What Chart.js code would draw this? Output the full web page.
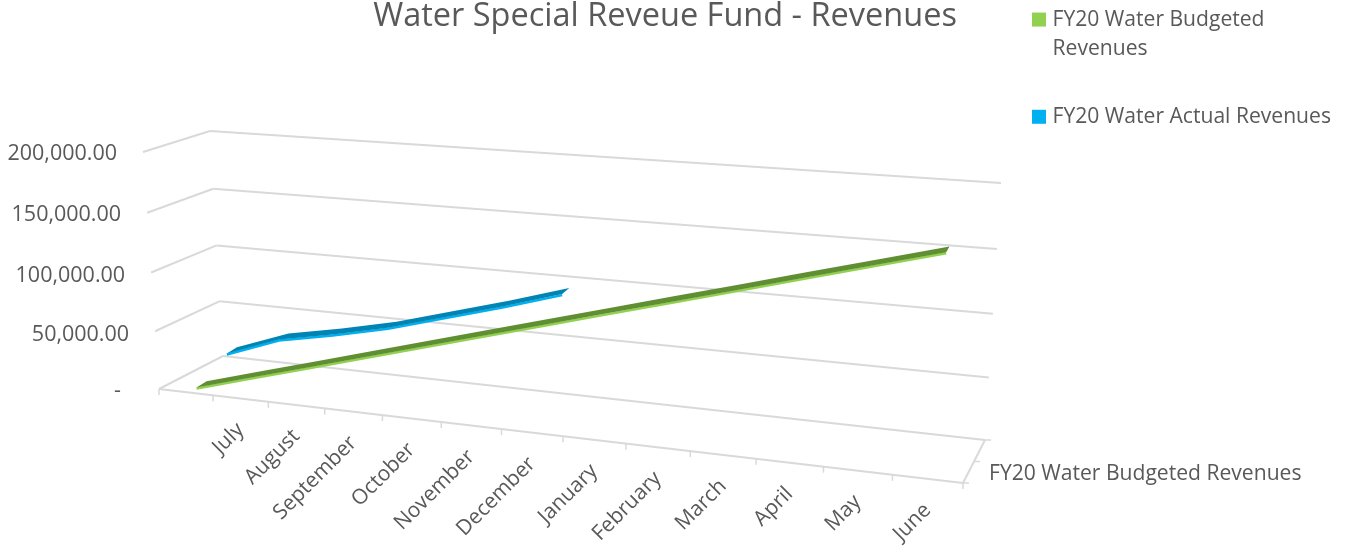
<!DOCTYPE html>
<html lang="en">
<head>
    <meta charset="UTF-8">
    <title>Water Special Reveue Fund - Revenues</title>
    <script src="https://cdn.jsdelivr.net/npm/chart.js@4"></script>
    <style>
        html, body { margin: 0; background: #fff; }
        canvas { display: block; }
    </style>
</head>
<body>
    <canvas id="myChart" width="1346" height="548"></canvas>

    <script>
        const categories = ['', 'July', 'August', 'September', 'October', 'November', 'December', 'January', 'February', 'March', 'April', 'May', 'June'];
        const budgetedValues = [0, 13792, 27583, 41375, 55167, 68958, 82750, 96542, 110333, 124125, 137917, 151708, 165500];
        const actualValues = [15500, 33000, 42300, 53000, 66700, 80500, 95300];
        const valueTicks = [0, 50000, 100000, 150000, 200000];
        const valueTickLabels = ['-', '50,000.00', '100,000.00', '150,000.00', '200,000.00'];
        const seriesNames = ['FY20 Water Budgeted Revenues', 'FY20 Water Actual Revenues'];
        const depthLabel = 'FY20 Water Budgeted Revenues';

        const textColor = '#595959';
        const gridColor = '#d9d9d9';
        const fontName = '"Open Sans", sans-serif';

        // corners of the 3D box on the page: Front/Back, Left/Right, Bottom/Top
        const box = {
            FLB: [159, 389], FRB: [963, 483], BLB: [223, 356], BRB: [985, 440],
            FLT: [143, 152], FRT: [983, 211], BLT: [210, 131], BRT: [1001, 183]
        };
        const lerp = (a, b, t) => [a[0] + (b[0] - a[0]) * t, a[1] + (b[1] - a[1]) * t];
        const persp = (t, k) => t / (t + k * (1 - t));

        // u along months, v up the value axis, w into depth, all 0..1
        function project(u, v, w) {
            const pu = persp(u, 1.155);
            const pv = persp(v, 1.035);
            const front = lerp(lerp(box.FLB, box.FRB, pu), lerp(box.FLT, box.FRT, pu), pv);
            const back = lerp(lerp(box.BLB, box.BRB, pu), lerp(box.BLT, box.BRT, pu), pv);
            return lerp(front, back, w);
        }

        const uOf = (chart, i) => chart.scales.x.getDecimalForPixel(chart.scales.x.getPixelForValue(i));
        const vOf = (chart, val) => chart.scales.y.getDecimalForPixel(chart.scales.y.getPixelForValue(val));

        function segment(ctx, a, b) {
            ctx.beginPath();
            ctx.moveTo(a[0], a[1]);
            ctx.lineTo(b[0], b[1]);
            ctx.stroke();
        }

        const box3d = {
            id: 'box3d',
            afterLayout(chart) {
                // legend sits beside the title in the original, not under it
                chart.legend.top = -30;
                chart.legend.left = 997;
                chart.legend.right = 1346;
            },
            // move the line points from the flat scales on to the 3D box
            afterDatasetsUpdate(chart) {
                chart.data.datasets.forEach((ds, d) => {
                    chart.getDatasetMeta(d).data.forEach((pt, i) => {
                        const p = project(uOf(chart, i), vOf(chart, ds.data[i]), ds.depth - ds.ribbon);
                        pt.x = p[0];
                        pt.y = p[1] + 2;
                    });
                });
            },
            beforeDatasetsDraw(chart) {
                const ctx = chart.ctx;
                const vals = valueTicks.map(t => vOf(chart, t));
                ctx.save();
                ctx.strokeStyle = gridColor;
                ctx.lineWidth = 2;
                vals.forEach(v => {
                    segment(ctx, project(0, v, 0), project(0, v, 1));
                    segment(ctx, project(0, v, 1), project(1, v, 1));
                });
                // floor
                segment(ctx, project(0, 0, 0), project(1, 0, 0));
                segment(ctx, project(1, 0, 0), project(1, 0, 1));
                // tick marks
                ctx.lineWidth = 1.5;
                for (let i = 0; i <= categories.length; i++) {
                    const p = project(i / categories.length, 0, 0);
                    segment(ctx, p, [p[0], p[1] + 6]);
                }
                [0, 0.5, 1].forEach(w => {
                    const p = project(1, 0, w);
                    segment(ctx, p, [p[0] + 6, p[1]]);
                });

                ctx.fillStyle = textColor;
                ctx.font = '21.5px ' + fontName;
                ctx.textBaseline = 'middle';
                ctx.textAlign = 'right';
                const nudge = [2, 4, 3, 2, 2];
                valueTicks.forEach((t, i) => {
                    const p = project(0, vOf(chart, t), 0);
                    ctx.fillText(valueTickLabels[i], p[0] - (i === 0 ? 38 : 26), p[1] + nudge[i]);
                });
                ctx.font = '21px ' + fontName;
                categories.forEach((c, i) => {
                    const p = project(uOf(chart, i), 0, 0);
                    ctx.save();
                    ctx.translate(p[0], p[1] + 28);
                    ctx.rotate(-Math.PI / 4);
                    ctx.fillText(c, 0, 0);
                    ctx.restore();
                });
                ctx.font = '21.1px ' + fontName;
                ctx.textAlign = 'left';
                ctx.fillText(depthLabel, 989, 474);
                ctx.restore();
            },
            // darker top face of the ribbon, the dataset line is its front face
            afterDatasetDraw(chart, args) {
                const ds = chart.data.datasets[args.index];
                const ctx = chart.ctx;
                const u = ds.data.map((_, i) => uOf(chart, i));
                const v = ds.data.map(val => vOf(chart, val));
                ctx.save();
                ctx.fillStyle = ds.topColor;
                ctx.beginPath();
                u.forEach((_, i) => {
                    const p = project(u[i], v[i], ds.depth - ds.ribbon);
                    ctx.lineTo(p[0], p[1] + 1);
                });
                for (let i = u.length - 1; i >= 0; i--) {
                    const p = project(u[i], v[i], ds.depth + ds.ribbon);
                    ctx.lineTo(p[0], p[1]);
                }
                ctx.closePath();
                ctx.fill();
                ctx.restore();
            }
        };

        new Chart(document.getElementById('myChart').getContext('2d'), {
            type: 'line',
            data: {
                labels: categories,
                datasets: [{
                    label: seriesNames[0],
                    data: budgetedValues,
                    borderColor: '#92d050',
                    backgroundColor: '#92d050',
                    topColor: '#5f8f32',
                    depth: 0.25,
                    ribbon: 0.08
                }, {
                    label: seriesNames[1],
                    data: actualValues,
                    borderColor: '#00b0f0',
                    backgroundColor: '#00b0f0',
                    topColor: '#0084b4',
                    depth: 0.75,
                    ribbon: 0.08
                }]
            },
            options: {
                responsive: false,
                animation: false,
                clip: false,
                layout: { padding: { right: 16 } },
                elements: {
                    point: { radius: 0 },
                    line: { borderWidth: 2.5, tension: 0, borderCapStyle: 'butt' }
                },
                scales: {
                    x: { display: false, offset: true },
                    y: { display: false, min: 0, max: 200000 }
                },
                plugins: {
                    title: {
                        display: true,
                        text: 'Water Special Reveue Fund - Revenues',
                        color: textColor,
                        padding: 0,
                        font: { family: fontName, size: 32.5, weight: 'normal', lineHeight: 1 }
                    },
                    legend: {
                        position: 'right',
                        align: 'start',
                        labels: {
                            color: textColor,
                            font: { family: fontName, size: 21.1, lineHeight: 1.38 },
                            boxWidth: 6,
                            boxHeight: 6,
                            padding: 39,
                            generateLabels(chart) {
                                return Chart.defaults.plugins.legend.labels.generateLabels(chart).map((item, i) => {
                                    item.lineWidth = 8;
                                    item.text = i === 0 ? ['FY20 Water Budgeted', 'Revenues'] : item.text;
                                    return item;
                                });
                            }
                        }
                    },
                    tooltip: { enabled: false }
                }
            },
            plugins: [box3d]
        });
    </script>
</body>
</html>
